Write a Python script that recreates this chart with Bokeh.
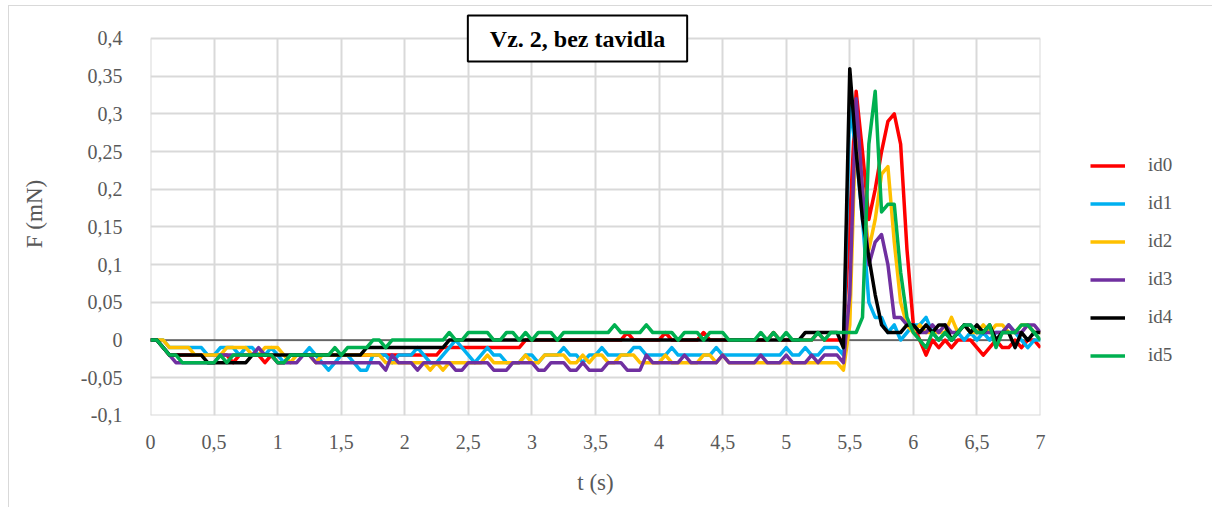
from bokeh.plotting import figure
from bokeh.models import (Range1d, FixedTicker, Legend, LegendItem, Label, Span,
                          ColumnDataSource)
from bokeh.embed import file_html
from bokeh.resources import INLINE

# sampling step of the force record (s)
dt = 0.05
t_s = [round(i * dt, 2) for i in range(141)]

# force F (mN) per specimen, one value every 0.05 s from 0 to 7 s
id0 = [
    0, 0, -0.01, -0.02, -0.02, -0.02, -0.02, -0.02, -0.02, -0.02,
    -0.02, -0.02, -0.02, -0.03, -0.02, -0.02, -0.02, -0.02, -0.03, -0.02,
    -0.03, -0.03, -0.02, -0.02, -0.02, -0.02, -0.02, -0.02, -0.02, -0.02,
    -0.02, -0.02, -0.02, -0.02, -0.02, -0.02, -0.02, -0.02, -0.02, -0.02,
    -0.02, -0.02, -0.02, -0.02, -0.02, -0.02, -0.01, -0.01, -0.01, -0.01,
    -0.01, -0.01, -0.01, -0.01, -0.01, -0.01, -0.01, -0.01, -0.01, 0,
    0, 0, 0, 0, 0, 0, 0, 0, 0, 0,
    0, 0, 0, 0, 0, 0.01, 0, 0, 0, 0,
    0, 0.01, 0, 0, 0, 0, 0, 0.01, 0, 0,
    0, 0, 0, 0, 0, 0, 0, 0, 0.01, 0,
    0, 0, 0, 0, 0, 0.01, 0, 0, 0, 0,
    0.16, 0.33, 0.25, 0.16, 0.20, 0.25, 0.29, 0.30, 0.26, 0.12,
    0.02, 0.0, -0.02, 0.0, -0.01, 0.0, -0.01, 0.0, 0.0, 0.0,
    -0.01, -0.02, -0.01, 0.0, -0.01, -0.01, 0.0, -0.01, 0.0, 0.0,
    -0.01]

id1 = [
    0, 0, 0, -0.01, -0.01, -0.01, -0.01, -0.01, -0.01, -0.02,
    -0.02, -0.01, -0.01, -0.01, -0.02, -0.01, -0.01, -0.02, -0.02, -0.01,
    -0.02, -0.03, -0.02, -0.02, -0.02, -0.01, -0.02, -0.03, -0.04, -0.03,
    -0.02, -0.02, -0.03, -0.04, -0.04, -0.02, -0.02, -0.02, -0.03, -0.02,
    -0.02, -0.02, -0.01, -0.02, -0.03, -0.03, -0.02, -0.01, 0, -0.01,
    -0.02, -0.03, -0.02, -0.01, -0.02, -0.02, -0.03, -0.03, -0.03, -0.02,
    -0.02, -0.03, -0.02, -0.02, -0.02, -0.01, -0.02, -0.02, -0.03, -0.02,
    -0.02, -0.01, -0.02, -0.02, -0.02, -0.02, -0.01, -0.01, -0.02, -0.02,
    -0.02, -0.02, -0.01, -0.02, -0.02, -0.02, -0.02, -0.02, -0.02, -0.01,
    -0.02, -0.02, -0.02, -0.02, -0.02, -0.02, -0.02, -0.02, -0.02, -0.02,
    -0.01, -0.02, -0.02, -0.01, -0.02, -0.02, -0.01, -0.01, -0.01, -0.02,
    0.31, 0.25, 0.16, 0.05, 0.03, 0.03, 0.01, 0.02, 0.0, 0.01,
    0.02, 0.02, 0.03, 0.01, 0.0, 0.01, 0.0, 0.01, 0.0, 0.01,
    0.0, 0.01, 0.0, 0.01, 0.01, 0.02, 0.01, 0.0, -0.01, 0.0,
    0.0]

id2 = [
    0, 0, 0, -0.01, -0.01, -0.01, -0.01, -0.02, -0.02, -0.02,
    -0.02, -0.02, -0.01, -0.01, -0.01, -0.01, -0.02, -0.02, -0.01, -0.01,
    -0.01, -0.02, -0.03, -0.02, -0.02, -0.02, -0.03, -0.02, -0.02, -0.02,
    -0.02, -0.02, -0.02, -0.02, -0.02, -0.02, -0.02, -0.03, -0.03, -0.03,
    -0.03, -0.03, -0.03, -0.03, -0.04, -0.03, -0.04, -0.03, -0.03, -0.03,
    -0.03, -0.03, -0.03, -0.02, -0.03, -0.03, -0.03, -0.03, -0.03, -0.02,
    -0.03, -0.03, -0.02, -0.02, -0.02, -0.02, -0.03, -0.03, -0.02, -0.03,
    -0.02, -0.02, -0.03, -0.03, -0.02, -0.02, -0.02, -0.03, -0.03, -0.03,
    -0.03, -0.02, -0.03, -0.03, -0.03, -0.03, -0.03, -0.02, -0.02, -0.03,
    -0.02, -0.03, -0.03, -0.03, -0.03, -0.03, -0.03, -0.03, -0.03, -0.03,
    -0.03, -0.03, -0.03, -0.03, -0.03, -0.03, -0.03, -0.03, -0.03, -0.04,
    0.02, 0.30, 0.20, 0.12, 0.16, 0.22, 0.23, 0.13, 0.05, 0.02,
    0.01, 0.02, 0.01, 0.01, 0.01, 0.01, 0.03, 0.01, 0.02, 0.01,
    0.01, 0.02, 0.01, 0.02, 0.02, 0.01, 0.01, 0.02, 0.02, 0.01,
    0.01]

id3 = [
    0, 0, -0.01, -0.02, -0.03, -0.03, -0.03, -0.03, -0.03, -0.03,
    -0.03, -0.02, -0.02, -0.02, -0.02, -0.02, -0.02, -0.01, -0.02, -0.02,
    -0.03, -0.03, -0.03, -0.03, -0.02, -0.02, -0.03, -0.03, -0.03, -0.03,
    -0.03, -0.03, -0.03, -0.03, -0.03, -0.03, -0.03, -0.04, -0.02, -0.03,
    -0.03, -0.03, -0.04, -0.03, -0.03, -0.03, -0.03, -0.03, -0.04, -0.04,
    -0.03, -0.03, -0.03, -0.03, -0.04, -0.04, -0.04, -0.03, -0.03, -0.03,
    -0.03, -0.04, -0.04, -0.03, -0.03, -0.03, -0.04, -0.04, -0.03, -0.04,
    -0.04, -0.04, -0.03, -0.03, -0.03, -0.04, -0.04, -0.04, -0.02, -0.03,
    -0.03, -0.03, -0.03, -0.03, -0.02, -0.03, -0.03, -0.03, -0.03, -0.03,
    -0.02, -0.03, -0.03, -0.03, -0.03, -0.03, -0.02, -0.03, -0.03, -0.03,
    -0.02, -0.03, -0.03, -0.03, -0.02, -0.03, -0.02, -0.02, -0.02, -0.03,
    0.06, 0.32, 0.20, 0.10, 0.13, 0.14, 0.10, 0.03, 0.03, 0.02,
    0.02, 0.01, 0.01, 0.02, 0.01, 0.02, 0.01, 0.01, 0.02, 0.02,
    0.01, 0.01, 0.01, 0.01, 0.01, 0.02, 0.01, 0.01, 0.02, 0.02,
    0.01]

id4 = [
    0, 0, -0.01, -0.02, -0.02, -0.02, -0.02, -0.02, -0.02, -0.03,
    -0.03, -0.03, -0.03, -0.03, -0.03, -0.03, -0.02, -0.02, -0.02, -0.02,
    -0.02, -0.02, -0.02, -0.02, -0.02, -0.02, -0.02, -0.02, -0.02, -0.02,
    -0.02, -0.02, -0.02, -0.02, -0.01, -0.01, -0.01, -0.01, -0.01, -0.01,
    -0.01, -0.01, -0.01, -0.01, -0.01, -0.01, -0.01, 0, 0, 0,
    0, 0, 0, 0, 0, 0, 0, 0, 0, 0,
    0, 0, 0, 0, 0, 0, 0, 0, 0, 0,
    0, 0, 0, 0, 0, 0, 0, 0, 0, 0,
    0, 0, 0, 0, 0, 0, 0, 0, 0, 0,
    0, 0, 0, 0, 0, 0, 0, 0, 0, 0,
    0, 0, 0, 0.01, 0.01, 0.01, 0.01, 0.01, 0.01, -0.01,
    0.36, 0.25, 0.16, 0.11, 0.06, 0.02, 0.01, 0.01, 0.01, 0.02,
    0.02, 0.01, 0.02, 0.01, 0.02, 0.02, 0.0, 0.01, 0.02, 0.01,
    0.02, 0.01, 0.02, 0.0, 0.01, 0.01, -0.01, 0.01, 0.0, 0.01,
    0.01]

id5 = [
    0, 0, -0.01, -0.02, -0.02, -0.03, -0.03, -0.03, -0.03, -0.03,
    -0.03, -0.02, -0.03, -0.02, -0.02, -0.02, -0.02, -0.02, -0.02, -0.02,
    -0.03, -0.03, -0.02, -0.02, -0.02, -0.02, -0.02, -0.02, -0.02, -0.01,
    -0.02, -0.01, -0.01, -0.01, -0.01, 0, 0, -0.01, 0, 0,
    0, 0, 0, 0, 0, 0, 0, 0.01, 0, 0,
    0.01, 0.01, 0.01, 0.01, 0, 0, 0.01, 0.01, 0, 0.01,
    0, 0.01, 0.01, 0.01, 0, 0.01, 0.01, 0.01, 0.01, 0.01,
    0.01, 0.01, 0.01, 0.02, 0.01, 0.01, 0.01, 0.01, 0.02, 0.01,
    0.01, 0.01, 0.01, 0, 0.01, 0.01, 0.01, 0, 0.01, 0.01,
    0.01, 0, 0, 0, 0, 0, 0.01, 0, 0.01, 0,
    0.01, 0, 0, 0, 0, 0.01, 0, 0.01, 0.01, 0.01,
    0.01, 0.01, 0.03, 0.26, 0.33, 0.17, 0.18, 0.18, 0.09, 0.03,
    0.01, 0.0, -0.01, 0.01, 0.0, 0.01, 0.0, 0.01, 0.02, 0.02,
    0.01, 0.01, 0.02, -0.01, 0.01, 0.01, 0.01, 0.02, 0.02, 0.01,
    0.0]

series_names = ["id0", "id1", "id2", "id3", "id4", "id5"]
series_colors = ["#FF0000", "#00B0F0", "#FFC000", "#7030A0", "#000000", "#00B050"]

x_ticks = [0, 0.5, 1, 1.5, 2, 2.5, 3, 3.5, 4, 4.5, 5, 5.5, 6, 6.5, 7]
x_tick_labels = ["0", "0,5", "1", "1,5", "2", "2,5", "3", "3,5", "4", "4,5",
                 "5", "5,5", "6", "6,5", "7"]
y_ticks = [-0.1, -0.05, 0, 0.05, 0.1, 0.15, 0.2, 0.25, 0.3, 0.35, 0.4]
y_tick_labels = ["-0,1", "-0,05", "0", "0,05", "0,1", "0,15", "0,2", "0,25",
                 "0,3", "0,35", "0,4"]
x_min, x_max = 0, 7
y_min, y_max = -0.1, 0.4

title_text = "Vz. 2, bez tavidla"
x_title = "t (s)"
y_title = "F (mN)"

SERIF = "Liberation Serif"
GREY_TEXT = "#595959"
GRID = "#d9d9d9"
CHART_BORDER = "#d9d9d9"

# value box is 890 x 377 px; a strip above it holds the framed chart title
PX_PER_UNIT = 377 / (y_max - y_min)
TITLE_STRIP = 26
y_top = y_max + TITLE_STRIP / PX_PER_UNIT
# tiny slack so the grid also draws its lines on the plot-area edges
EPS = 1e-4

source = ColumnDataSource(dict(t=t_s, id0=id0, id1=id1, id2=id2,
                               id3=id3, id4=id4, id5=id5))

p = figure(frame_width=890, frame_height=377 + TITLE_STRIP,
           min_border_left=141, min_border_right=172,
           min_border_top=38 - TITLE_STRIP - 6, min_border_bottom=92,
           x_range=Range1d(x_min - EPS, x_max + EPS),
           y_range=Range1d(y_min - EPS, y_top),
           output_backend="svg", toolbar_location=None)
p.margin = (5, 0, 0, 8)
p.styles = {"border-top": f"1px solid {CHART_BORDER}",
            "border-left": f"1px solid {CHART_BORDER}"}
p.background_fill_color = "white"
p.border_fill_color = "white"
p.outline_line_color = None

# axes
for ax in (p.xaxis[0], p.yaxis[0]):
    ax.axis_line_color = None
    ax.major_tick_line_color = None
    ax.minor_tick_line_color = None
    ax.major_label_text_font = SERIF
    ax.major_label_text_font_size = "20px"
    ax.major_label_text_color = GREY_TEXT
    ax.axis_label_text_font = SERIF
    ax.axis_label_text_font_size = "23px"
    ax.axis_label_text_font_style = "normal"
    ax.axis_label_text_color = GREY_TEXT

p.xaxis.ticker = FixedTicker(ticks=x_ticks)
p.xaxis.major_label_overrides = dict(zip(x_ticks, x_tick_labels))
p.xaxis.major_label_standoff = 13
p.xaxis.axis_label = x_title
p.xaxis.axis_label_standoff = 18

p.yaxis.ticker = FixedTicker(ticks=y_ticks)
p.yaxis.major_label_overrides = dict(zip(y_ticks, y_tick_labels))
p.yaxis.major_label_standoff = 22
p.yaxis.axis_label = y_title
p.yaxis.axis_label_standoff = 31

# grid, kept inside the value box
p.xgrid.ticker = FixedTicker(ticks=x_ticks)
p.ygrid.ticker = FixedTicker(ticks=y_ticks)
p.xgrid.cross_bounds = (y_min, y_max)
for g in (p.xgrid[0], p.ygrid[0]):
    g.grid_line_color = GRID
    g.grid_line_width = 2

# horizontal axis line crossing at zero
p.add_layout(Span(location=0, dimension="width", line_color="black",
                  line_width=1, level="underlay"))

renderers = []
for name, color in zip(series_names, series_colors):
    r = p.line("t", name, source=source, line_color=color, line_width=3.5,
               line_join="round")
    renderers.append(r)

legend = Legend(items=[LegendItem(label=n, renderers=[r])
                       for n, r in zip(series_names, renderers)],
                location=(50, 49), orientation="vertical",
                glyph_width=35, glyph_height=21, label_height=21,
                label_standoff=23, spacing=16, padding=0, margin=0,
                border_line_color=None, background_fill_alpha=0,
                label_text_font=SERIF, label_text_font_size="19px",
                label_text_color=GREY_TEXT)
p.add_layout(legend, "right")

# chart title in a framed box
p.add_layout(Label(x=427, y=377, x_units="screen", y_units="screen",
                   text=title_text, text_align="center", text_baseline="middle",
                   text_font=SERIF, text_font_size="24px",
                   text_font_style="bold", text_color="black",
                   background_fill_color="white", border_line_color="black",
                   border_line_width=2, padding=(22, 10)))

open("out.html", "w").write(file_html(p, INLINE))
